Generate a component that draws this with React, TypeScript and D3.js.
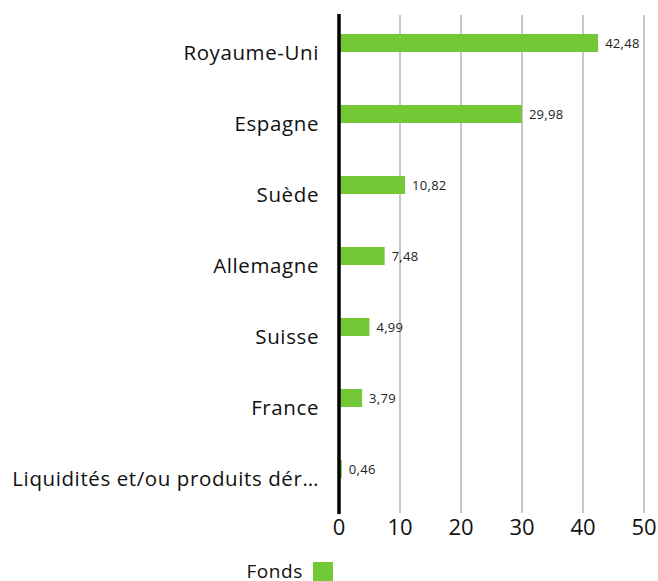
import { FC, useEffect, useRef } from 'react';
import * as d3 from 'd3';

const categories = [
  'Royaume-Uni',
  'Espagne',
  'Suède',
  'Allemagne',
  'Suisse',
  'France',
  'Liquidités et/ou produits dérivés',
];
const fondsValues = [42.48, 29.98, 10.82, 7.48, 4.99, 3.79, 0.46];
const xTicks = [0, 10, 20, 30, 40, 50];
const seriesName = 'Fonds';

const truncate = (s: string, n: number) => (s.length > n ? s.slice(0, n) + '…' : s);

const App: FC = () => {
  const chartRef = useRef<SVGSVGElement>(null);

  useEffect(() => {
    const width = 658;
    const height = 581;
    const font = '"Open Sans", "Noto Sans", sans-serif';

    const svg = d3.select(chartRef.current);
    svg.selectAll('*').remove();

    // Scales
    const x = d3.scaleLinear().domain([0, 50]).range([339, 644]);
    const y = d3.scaleBand().domain(categories).range([14, 511]);

    // Grid lines
    svg
      .append('g')
      .selectAll('line')
      .data(xTicks.slice(1))
      .enter()
      .append('line')
      .attr('x1', (d) => x(d))
      .attr('x2', (d) => x(d))
      .attr('y1', 15)
      .attr('y2', 513)
      .attr('stroke', '#c8c8c8')
      .attr('stroke-width', 2);

    // Bars
    const barH = 18;
    svg
      .append('g')
      .selectAll('rect')
      .data(fondsValues)
      .enter()
      .append('rect')
      .attr('x', x(0))
      .attr('y', (_, i) => y(categories[i])! + y.bandwidth() / 2 - 15.5)
      .attr('width', (d) => x(d) - x(0))
      .attr('height', barH)
      .attr('fill', '#73c935');

    // Value labels
    svg
      .append('g')
      .selectAll('text')
      .data(fondsValues)
      .enter()
      .append('text')
      .attr('x', (d) => x(d) + 7)
      .attr('y', (_, i) => y(categories[i])! + y.bandwidth() / 2 - 6.5)
      .attr('dominant-baseline', 'central')
      .attr('font-family', font)
      .attr('font-size', 13)
      .attr('letter-spacing', 0.3)
      .attr('fill', '#222')
      .text((d) => d.toFixed(2).replace('.', ','));

    // Category axis line
    svg
      .append('line')
      .attr('x1', x(0))
      .attr('x2', x(0))
      .attr('y1', 14)
      .attr('y2', 514)
      .attr('stroke', '#000')
      .attr('stroke-width', 3.5);

    // Category labels
    svg
      .append('g')
      .selectAll('text')
      .data(categories)
      .enter()
      .append('text')
      .attr('x', 319)
      .attr('y', (d) => y(d)! + y.bandwidth() / 2 + 2)
      .attr('text-anchor', 'end')
      .attr('dominant-baseline', 'central')
      .attr('font-family', font)
      .attr('font-size', 20.5)
      .attr('letter-spacing', 0.6)
      .attr('fill', '#111')
      .text((d) => truncate(d, 29));

    // X tick labels
    svg
      .append('g')
      .selectAll('text')
      .data(xTicks)
      .enter()
      .append('text')
      .attr('x', (d) => x(d))
      .attr('y', 535)
      .attr('text-anchor', 'middle')
      .attr('font-family', font)
      .attr('font-size', 22)
      .attr('fill', '#111')
      .text((d) => d);

    // Legend
    const legend = svg.append('g');
    legend
      .append('text')
      .attr('x', 303)
      .attr('y', 578)
      .attr('text-anchor', 'end')
      .attr('font-family', font)
      .attr('font-size', 19)
      .attr('letter-spacing', 0.6)
      .attr('fill', '#111')
      .text(seriesName);
    legend
      .append('rect')
      .attr('x', 313)
      .attr('y', 562)
      .attr('width', 20)
      .attr('height', 20)
      .attr('fill', '#73c935');

    svg.attr('width', width).attr('height', height);
  }, []);

  return (
    <svg
      ref={chartRef}
      style={{ position: 'absolute', left: 0, top: 0, background: '#fff' }}
    />
  );
};

export default App;
